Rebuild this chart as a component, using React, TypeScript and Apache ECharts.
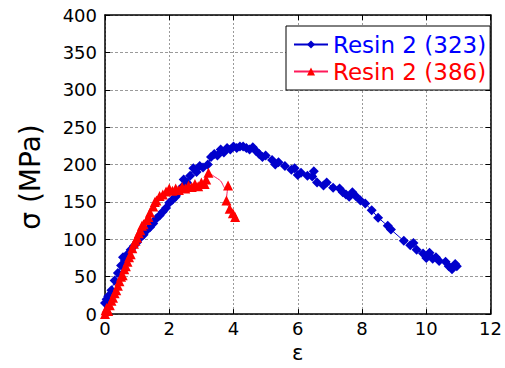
import React, { useEffect, useRef } from "react";
import * as echarts from "echarts";

const blueName = "Resin 2 (323)";
const redName = "Resin 2 (386)";
const yTitle = "σ (MPa)";
const xTitle = "ε";

const blueData: [number, number][] = [
  [0.0, 15], [0.05, 20], [0.1, 24], [0.2, 32], [0.3, 45], [0.4, 55], [0.5, 65],
  [0.56, 76], [0.62, 72], [0.7, 80], [0.8, 86], [0.9, 91], [1.0, 96], [1.1, 102],
  [1.2, 106], [1.3, 112], [1.4, 116], [1.5, 121], [1.6, 128], [1.7, 132], [1.8, 137],
  [1.9, 142], [2.0, 149], [2.1, 153], [2.2, 157], [2.3, 163], [2.4, 170], [2.45, 180],
  [2.55, 176], [2.65, 185], [2.75, 195], [2.85, 190], [2.95, 198], [3.05, 196],
  [3.2, 200], [3.3, 210], [3.4, 214], [3.5, 212], [3.6, 220], [3.7, 216], [3.8, 222],
  [3.9, 220], [4.0, 224], [4.1, 222], [4.2, 224], [4.3, 224], [4.4, 222], [4.5, 220],
  [4.6, 223], [4.7, 218], [4.8, 214], [4.9, 210], [5.0, 212], [5.2, 206], [5.3, 200],
  [5.4, 203], [5.6, 198], [5.8, 193], [5.9, 195], [6.0, 186], [6.1, 189], [6.3, 185],
  [6.45, 184], [6.5, 191], [6.6, 176], [6.8, 172], [6.9, 176], [7.1, 169], [7.3, 168],
  [7.4, 163], [7.5, 160], [7.6, 157], [7.7, 163], [7.8, 158], [7.95, 152], [8.1, 148],
  [8.3, 139], [8.5, 129], [8.8, 118], [8.9, 113], [9.3, 98], [9.5, 92], [9.6, 95],
  [9.7, 86], [9.9, 81], [10.0, 75], [10.1, 82], [10.2, 74], [10.3, 76], [10.4, 71],
  [10.6, 70], [10.7, 64], [10.8, 60], [10.9, 67], [10.95, 64],
];

const redRise: [number, number][] = [
  [0.0, 0], [0.02, 5], [0.05, 8], [0.1, 4], [0.15, 12], [0.2, 18], [0.25, 22],
  [0.3, 28], [0.35, 32], [0.4, 38], [0.45, 44], [0.5, 50], [0.55, 52], [0.6, 60],
  [0.65, 64], [0.7, 70], [0.75, 76], [0.8, 80], [0.85, 88], [0.9, 94], [0.95, 98],
  [1.0, 102], [1.05, 108], [1.1, 112], [1.15, 118], [1.2, 120], [1.3, 126], [1.35, 130],
  [1.4, 136], [1.5, 144], [1.55, 150], [1.6, 152], [1.7, 158], [1.8, 160], [1.9, 164],
  [2.0, 168], [2.1, 165], [2.2, 168], [2.3, 166], [2.4, 170], [2.5, 168], [2.6, 172],
  [2.7, 170], [2.8, 174], [2.9, 171], [3.0, 176], [3.1, 174], [3.15, 180], [3.22, 189],
];
const redArc: [number, number][] = [
  [3.4, 184], [3.6, 178], [3.75, 168],
];
const redTail: [number, number][] = [
  [3.83, 172], [3.78, 152], [3.88, 141], [3.98, 135], [4.05, 130],
];

const xTicks = { min: 0, max: 12, interval: 2 };
const yTicks = { min: 0, max: 400, interval: 50 };

const FONT = "DejaVu Sans";
const BLUE = "#0000cc";
const RED = "#ff0000";
const RED_LINE = "#ff1a5a";

export default function App() {
  const ref = useRef<HTMLDivElement>(null);
  useEffect(() => {
    if (!ref.current) return;
    const chart = echarts.init(ref.current, undefined, { renderer: "svg" });
    const redSeriesData = [
      ...redRise.map((p) => ({ value: p })),
      ...redArc.map((p) => ({ value: p, symbol: "none" })),
      ...redTail.map((p) => ({ value: p })),
    ];
    const gridLine = (type: any) => ({
      show: true,
      lineStyle: { color: "#9a9a9a", type, width: 1 },
    });
    chart.setOption({
      animation: false,
      backgroundColor: "#ffffff",
      grid: { left: 105, right: 8, top: 15, bottom: 46.5, containLabel: false },
      graphic: [
        {
          type: "text",
          x: 30,
          y: 177,
          rotation: Math.PI / 2,
          style: {
            text: yTitle,
            fontSize: 28,
            fontFamily: FONT,
            fill: "#000",
            align: "center",
            verticalAlign: "middle",
          },
        },
      ],
      legend: {
        orient: "vertical",
        left: 286,
        top: 26,
        padding: [7, 4, 7, 7],
        borderColor: "#000",
        borderWidth: 1,
        backgroundColor: "#fff",
        itemWidth: 34,
        itemHeight: 10,
        itemGap: 4,
        textStyle: { fontSize: 23, fontFamily: FONT },
        data: [
          { name: blueName, textStyle: { color: "#0000ff" } },
          { name: redName, textStyle: { color: "#ff0000" } },
        ],
      },
      xAxis: [
        {
          type: "value",
          ...xTicks,
          name: xTitle,
          nameLocation: "middle",
          nameGap: 18,
          nameTextStyle: { fontSize: 21, fontFamily: FONT, color: "#000" },
          axisLine: { show: true, onZero: false, lineStyle: { color: "#000", width: 1.5 } },
          axisTick: { show: true, inside: true, length: 5, lineStyle: { color: "#000" } },
          axisLabel: { fontSize: 18, fontFamily: FONT, color: "#000", margin: 5 },
          splitLine: gridLine([2, 2]),
        },
        {
          type: "value",
          ...xTicks,
          position: "top",
          axisLine: { show: true, onZero: false, lineStyle: { color: "#000", width: 1.5 } },
          axisTick: { show: true, inside: true, length: 5, lineStyle: { color: "#000" } },
          axisLabel: { show: false },
          splitLine: { show: false },
        },
      ],
      yAxis: [
        {
          type: "value",
          ...yTicks,
          axisLine: { show: true, onZero: false, lineStyle: { color: "#000", width: 1.5 } },
          axisTick: { show: true, inside: true, length: 5, lineStyle: { color: "#000" } },
          axisLabel: { fontSize: 18, fontFamily: FONT, color: "#000", margin: 8 },
          splitLine: gridLine([3, 2]),
        },
        {
          type: "value",
          ...yTicks,
          position: "right",
          axisLine: { show: true, onZero: false, lineStyle: { color: "#000", width: 1.5 } },
          axisTick: { show: true, inside: true, length: 5, lineStyle: { color: "#000" } },
          axisLabel: { show: false },
          splitLine: { show: false },
        },
      ],
      series: [
        {
          name: blueName,
          type: "line",
          data: blueData,
          symbol: "diamond",
          symbolSize: 10,
          lineStyle: { color: BLUE, width: 1 },
          itemStyle: { color: BLUE },
          emphasis: { disabled: true },
        },
        {
          name: redName,
          type: "line",
          data: redSeriesData,
          symbol: "triangle",
          symbolSize: 10,
          smooth: 0.3,
          lineStyle: { color: RED_LINE, width: 1 },
          itemStyle: { color: RED },
          emphasis: { disabled: true },
        },
      ],
    });
    return () => chart.dispose();
  }, []);
  return (
    <div
      ref={ref}
      style={{ position: "fixed", left: 0, top: 0, width: 505, height: 368, background: "#fff" }}
    />
  );
}
